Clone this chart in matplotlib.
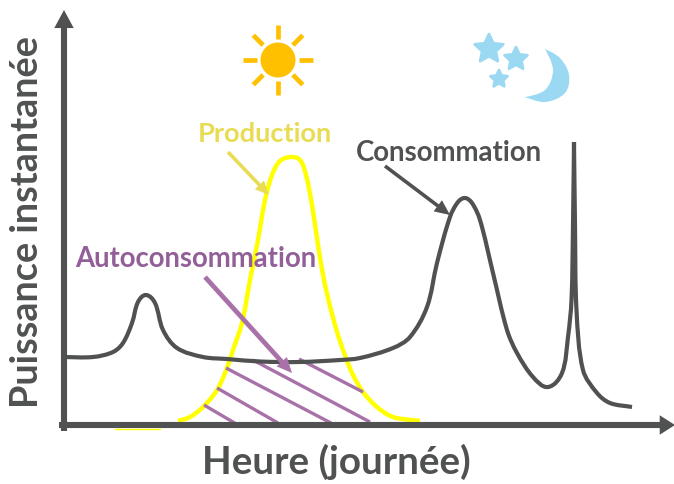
import numpy as np
import matplotlib
matplotlib.use("Agg")
import matplotlib.pyplot as plt
from matplotlib.patches import Circle, FancyArrowPatch, PathPatch, Polygon
from matplotlib.path import Path

GREY = "#505151"
YELLOW = "#FFFF00"
LABEL_YELLOW = "#E8DC55"
PURPLE = "#A871A8"
LABEL_PURPLE = "#935F98"
ORANGE = "#FFC000"
BLUE = "#9BD9F2"

# courbes (repere en pixels)
conso_x = [62, 93, 113, 123, 132, 138, 146, 155, 163, 177, 203, 227, 260, 300, 340, 360, 393, 410,
           427, 437, 450, 458, 465, 472, 480, 493, 507, 517, 533, 548, 562, 568, 571.5, 573, 574, 575,
           576.5, 583, 597, 610, 632]
conso_y = [357, 357, 352, 343, 323, 302, 295, 303, 330, 348, 357, 359, 361.5, 362, 360, 358, 348, 337,
           307, 263, 217, 202, 198, 203, 220, 273, 330, 353, 377, 387, 373, 337, 300, 225, 142, 225,
           310, 370, 393, 403, 407]
prod_x = [178, 190, 203, 217, 227, 233, 242, 250, 258, 265, 272, 280, 291, 300, 306, 312, 318, 324,
          331, 338, 346, 353, 363, 377, 393, 420]
prod_y = [421, 417, 407, 390, 368, 350, 323, 280, 240, 200, 175, 161, 157, 160, 175, 205, 245, 280,
          310, 335, 358, 375, 392, 407, 417, 421]
hatch_start_x = [299, 253, 226, 217, 204]
hatch_start_y = [359, 360, 368, 388, 405]
hatch_end_x = [363, 370, 331, 278, 238]
hatch_end_y = [392, 422, 423, 423, 425]
star_x = [489, 516, 499]
star_y = [49, 59, 79]
star_r = [15, 12, 9]
moon_x = [545, 560, 569, 565, 545, 525, 545, 553, 545]
moon_y = [49, 58, 75, 93, 102, 97, 90, 70, 49]


def smooth_path(xs, ys, sharp=()):
    # bezier par morceaux, tangentes a l'echelle de chaque segment
    pts = np.column_stack([xs, ys]).astype(float)
    verts = [pts[0]]
    codes = [Path.MOVETO]
    for i in range(len(pts) - 1):
        p1 = pts[i]
        p2 = pts[i + 1]
        seg = np.linalg.norm(p2 - p1) / 3
        t1 = pts[min(i + 1, len(pts) - 1)] - pts[max(i - 1, 0)]
        t2 = pts[min(i + 2, len(pts) - 1)] - pts[i]
        t1 = t1 / np.linalg.norm(t1) * seg
        t2 = t2 / np.linalg.norm(t2) * seg
        if i in sharp:
            t1 = t1 * 0
        if i + 1 in sharp:
            t2 = t2 * 0
        verts += [p1 + t1, p2 - t2, p2]
        codes += [Path.CURVE4] * 3
    return Path(verts, codes)


def arrow(ax, start, end, color, lw, head, width):
    style = f"simple,head_length={head},head_width={width},tail_width={lw}"
    ax.add_patch(FancyArrowPatch(start, end, arrowstyle=style, color=color, lw=0,
                                 mutation_scale=1, shrinkA=0, shrinkB=0, zorder=5))


fig = plt.figure(figsize=(6.74, 4.84), dpi=100)
ax = fig.add_axes([0, 0, 1, 1])
ax.set_xlim(0, 674)
ax.set_ylim(484, 0)
ax.axis("off")
plt.rcParams["font.family"] = ["Lato", "DejaVu Sans"]

# courbes
ax.add_patch(PathPatch(smooth_path(prod_x, prod_y), fill=False, ec=YELLOW, lw=3.2, zorder=2))
ax.plot([115, 160], [429, 429], color=YELLOW, lw=1, zorder=1)
for x0, y0, x1, y1 in zip(hatch_start_x, hatch_start_y, hatch_end_x, hatch_end_y):
    ax.plot([x0, x1], [y0, y1], color=PURPLE, lw=2.4, zorder=3, solid_capstyle="butt")
ax.add_patch(PathPatch(smooth_path(conso_x, conso_y, sharp=[conso_y.index(min(conso_y))]),
                       fill=False, ec=GREY, lw=3, zorder=4))

# axes
arrow(ax, (64, 431), (64, 10), GREY, 4.4, head=13, width=14)
arrow(ax, (59, 425), (675, 425), GREY, 4.4, head=11, width=14)

# fleches des etiquettes
arrow(ax, (205, 277), (292, 373), PURPLE, 3.4, head=11, width=10)
arrow(ax, (228, 152), (269, 195), LABEL_YELLOW, 2.6, head=10, width=9)
arrow(ax, (385, 166), (450, 215), GREY, 2.6, head=11, width=10)

# textes
ax.text(265, 134, "Production", color=LABEL_YELLOW, fontsize=19.6, fontweight="bold", ha="center", va="center")
ax.text(449, 153, "Consommation", color=GREY, fontsize=19.9, fontweight="bold", ha="center", va="center")
ax.text(196, 259, "Autoconsommation", color=LABEL_PURPLE, fontsize=19.8, fontweight="bold", ha="center", va="center")
ax.text(336, 462, "Heure (journée)", color=GREY, fontsize=27.8, fontweight="bold", ha="center", va="center")
ax.text(27, 222, "Puissance instantanée", color=GREY, fontsize=27.2, fontweight="bold", ha="center", va="center",
        rotation=90)

# soleil
ax.add_patch(Circle((278, 60), 17.5, fc=ORANGE, ec="none"))
for angle in np.arange(0, 360, 45):
    c, s = np.cos(np.radians(angle)), np.sin(np.radians(angle))
    ax.plot([278 + 21 * c, 278 + 35 * c], [60 + 21 * s, 60 + 35 * s], color=ORANGE, lw=3.4,
            solid_capstyle="butt")

# etoiles et lune
for cx, cy, r in zip(star_x, star_y, star_r):
    ang = np.radians(np.arange(0, 360, 36) - 90)
    rad = np.where(np.arange(10) % 2 == 0, r, r * 0.48)
    ax.add_patch(Polygon(np.column_stack([cx + rad * np.cos(ang), cy + rad * np.sin(ang)]),
                         fc=BLUE, ec=BLUE, lw=2, joinstyle="round"))
ax.add_patch(PathPatch(smooth_path(moon_x, moon_y, sharp=[0, 5, 8]), fc=BLUE, ec="none"))

fig.savefig("out.png", dpi=100)
